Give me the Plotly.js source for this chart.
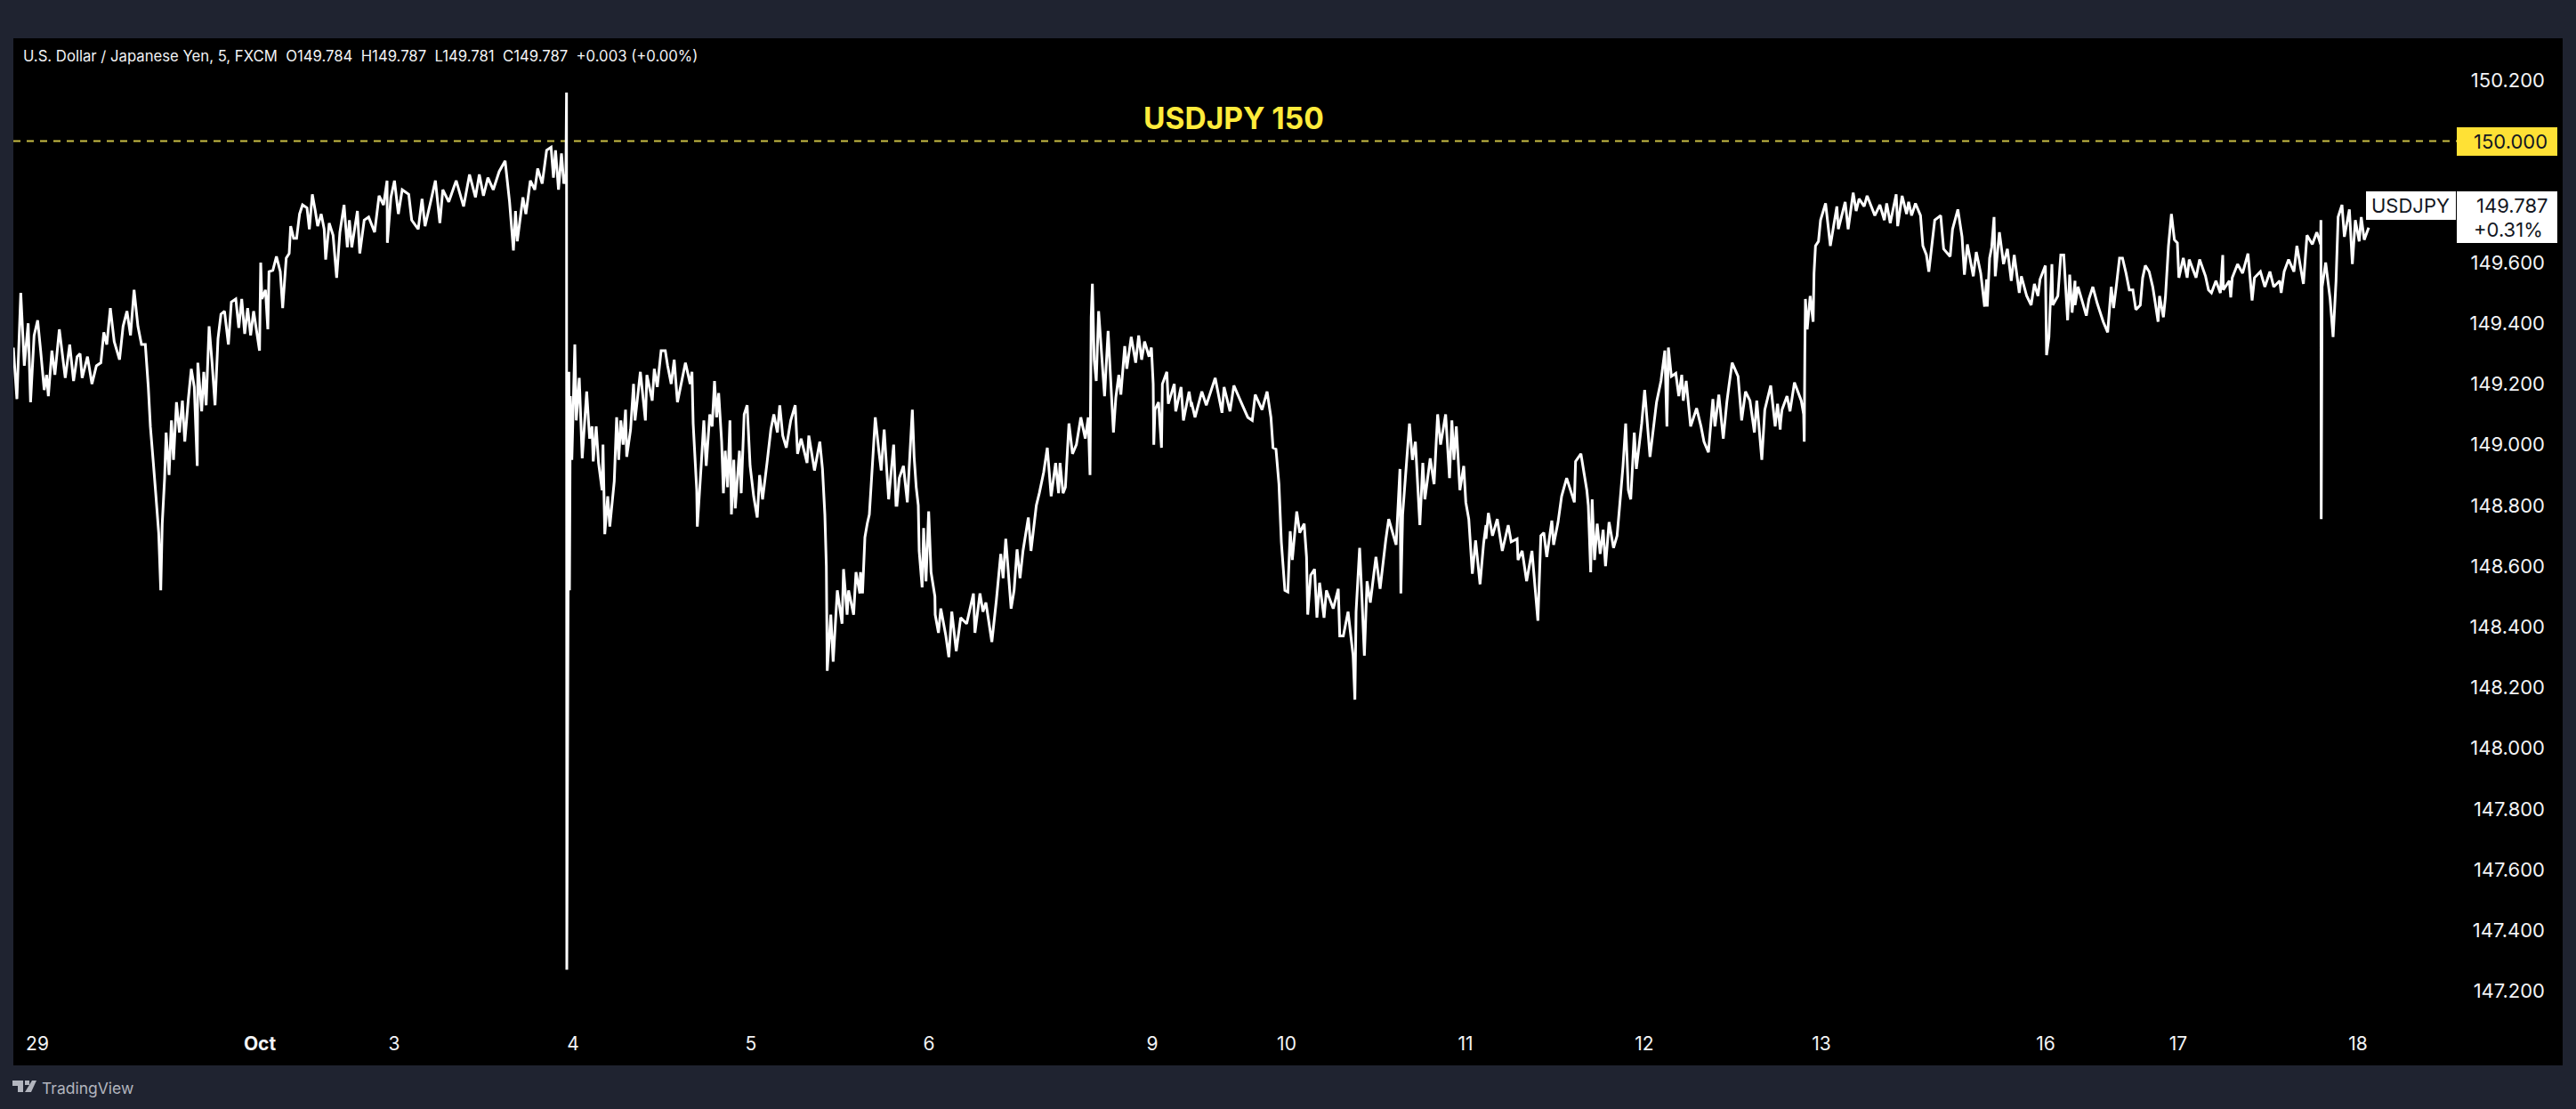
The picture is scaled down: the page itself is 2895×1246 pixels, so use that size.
<!DOCTYPE html>
<html><head><meta charset="utf-8">
<script src="https://cdn.plot.ly/plotly-3.0.1.min.js"></script>
<style>html,body{margin:0;padding:0;background:#1f2330}</style></head>
<body><div id="chart" style="width:2895px;height:1246px"></div>
<script>
// USD/JPY price path: [time step within the stretch, price]
const stretchStart=[0,993,1986,2979,3972,4965,5958,6951];
const stretch1=[[0,149.32],[12,149.15],[25,149.50],[37,149.26],[50,149.40],[58,149.14],[70,149.36],[82,149.41],[92,149.31],[104,149.18],[112,149.23],[118,149.16],[130,149.31],[140,149.23],[155,149.38],[175,149.22],[190,149.33],[203,149.21],[215,149.29],[225,149.30],[232,149.22],[250,149.29],[265,149.20],[280,149.26],[295,149.27],[305,149.37],[315,149.33],[327,149.45],[340,149.34],[358,149.28],[370,149.39],[383,149.44],[395,149.36],[407,149.51],[420,149.39],[432,149.33],[445,149.33],[455,149.19],[462,149.06],[472,148.94],[480,148.84],[490,148.71],[497,148.52],[502,148.74],[510,148.89],[515,149.04],[525,148.90],[533,149.08],[540,148.95],[550,149.14],[560,149.04],[570,149.145],[578,149.01],[590,149.15],[600,149.25],[610,149.19],[620,148.93],[622,149.27],[635,149.11],[642,149.24],[650,149.13],[660,149.39],[670,149.27],[680,149.13],[690,149.35],[700,149.43],[712,149.44],[725,149.33],[735,149.47],[750,149.48],[760,149.385],[770,149.48],[780,149.365],[790,149.45],[800,149.36],[810,149.44],[830,149.31],[834,149.60],[838,149.48],[850,149.51],[858,149.38],[862,149.57],[875,149.575],[887,149.62],[900,149.57],[908,149.45],[920,149.615],[930,149.63],[935,149.72],[945,149.68],[955,149.68],[965,149.76],[975,149.79],[990,149.78]];
const stretch2=[[5,149.71],[15,149.825],[25,149.77],[33,149.72],[45,149.76],[55,149.71],[60,149.61],[72,149.73],[85,149.69],[97,149.55],[108,149.70],[122,149.79],[133,149.65],[140,149.74],[148,149.65],[167,149.77],[175,149.63],[190,149.74],[205,149.75],[225,149.70],[240,149.82],[255,149.79],[267,149.87],[268,149.665],[280,149.815],[292,149.87],[305,149.76],[318,149.84],[340,149.825],[350,149.74],[372,149.71],[385,149.81],[395,149.72],[415,149.805],[430,149.87],[445,149.73],[455,149.84],[475,149.80],[500,149.87],[525,149.785],[545,149.89],[565,149.815],[578,149.89],[592,149.82],[607,149.88],[625,149.84],[645,149.90],[665,149.935],[680,149.80],[693,149.64],[700,149.77],[706,149.67],[725,149.815],[735,149.76],[750,149.87],[765,149.84],[775,149.91],[790,149.86],[805,149.97],[820,149.98],[828,149.88],[835,149.97],[845,149.84],[855,149.96],[863,149.86],[870,149.89],[872,150.16],[873,147.27],[880,149.24],[882,148.52],[885,149.16],[890,148.95],[900,149.33],[905,149.08],[915,149.22],[925,148.955],[940,149.175],[950,149.02],[958,149.06],[962,148.945],[972,149.06],[980,148.94],[992,148.85]];
const stretch3=[[2,149.00],[8,148.705],[18,148.83],[25,148.73],[40,148.88],[48,149.09],[55,148.95],[62,149.08],[70,149.00],[78,149.115],[82,148.96],[95,149.05],[105,149.20],[110,149.08],[128,149.24],[145,149.08],[150,149.23],[168,149.145],[175,149.25],[185,149.19],[198,149.31],[212,149.31],[220,149.26],[232,149.20],[242,149.28],[253,149.14],[280,149.27],[296,149.20],[302,149.24],[306,149.07],[318,148.85],[320,148.73],[333,148.93],[342,149.08],[350,148.93],[362,149.10],[370,149.06],[378,149.21],[385,149.09],[392,149.17],[402,149.01],[408,148.84],[414,148.98],[422,148.86],[430,149.08],[435,148.77],[443,148.95],[448,148.79],[462,148.98],[468,148.84],[478,149.10],[488,149.13],[498,148.93],[510,148.83],[522,148.76],[530,148.90],[540,148.82],[555,148.94],[568,149.05],[578,149.10],[590,149.04],[598,149.13],[608,149.03],[620,148.99],[635,149.08],[650,149.13],[658,148.97],[670,149.02],[690,148.94],[696,149.03],[715,148.915],[733,149.01],[742,148.92],[750,148.77],[755,148.60],[758,148.255],[770,148.44],[778,148.285],[792,148.52],[808,148.41],[813,148.59],[825,148.44],[830,148.52],[847,148.44],[855,148.58],[868,148.51],[870,148.58],[877,148.51],[885,148.695],[893,148.74],[900,148.77],[912,148.96],[920,149.09],[932,148.98],[940,148.915],[950,149.05],[965,148.82],[982,149.00],[990,148.80]];
const stretch4=[[0,148.80],[8,148.89],[22,148.93],[35,148.81],[52,149.115],[58,148.96],[65,148.86],[72,148.80],[75,148.65],[85,148.53],[90,148.725],[98,148.55],[107,148.78],[115,148.58],[128,148.50],[129,148.44],[140,148.38],[148,148.46],[165,148.37],[175,148.30],[185,148.45],[200,148.32],[215,148.43],[235,148.41],[258,148.51],[263,148.38],[280,148.51],[290,148.45],[300,148.48],[320,148.35],[335,148.485],[350,148.64],[358,148.56],[367,148.69],[385,148.46],[395,148.52],[405,148.655],[415,148.56],[425,148.65],[443,148.76],[452,148.65],[470,148.80],[480,148.84],[495,148.91],[507,148.99],[520,148.83],[535,148.94],[545,148.84],[550,148.94],[560,148.84],[568,148.86],[580,149.07],[592,148.97],[605,149.00],[620,149.09],[635,149.02],[645,149.09],[651,148.90],[655,149.42],[659,149.53],[665,149.28],[672,149.21],[680,149.44],[700,149.16],[712,149.375],[730,149.04],[738,149.155],[748,149.23],[755,149.165],[768,149.325],[775,149.25],[790,149.355],[805,149.27],[815,149.36],[825,149.28],[835,149.34],[850,149.29],[858,149.32],[864,149.20],[866,149.00],[870,149.115],[882,149.14],[892,148.99],[895,149.20],[910,149.24],[915,149.135],[935,149.20],[940,149.11],[958,149.19],[966,149.08],[985,149.175],[993,149.125]];
const stretch5=[[0,149.14],[12,149.09],[35,149.175],[50,149.13],[80,149.22],[103,149.105],[110,149.19],[130,149.11],[143,149.195],[165,149.145],[190,149.09],[205,149.08],[215,149.165],[238,149.115],[255,149.175],[268,149.09],[275,148.99],[285,148.985],[295,148.87],[303,148.68],[315,148.52],[325,148.515],[333,148.715],[340,148.62],[355,148.78],[365,148.71],[380,148.74],[388,148.63],[392,148.44],[402,148.57],[415,148.59],[423,148.43],[432,148.545],[447,148.43],[455,148.52],[478,148.46],[495,148.525],[500,148.37],[512,148.37],[528,148.45],[545,148.305],[551,148.16],[555,148.45],[567,148.66],[575,148.49],[583,148.305],[592,148.55],[603,148.48],[622,148.63],[636,148.525],[655,148.685],[665,148.755],[690,148.67],[703,148.92],[706,148.51],[712,148.77],[735,149.07],[745,148.95],[755,149.01],[770,148.735],[780,148.94],[787,148.82],[805,148.955],[818,148.87],[830,149.10],[840,149.00],[857,149.10],[870,148.89],[878,149.08],[885,148.95],[893,149.06],[905,148.85],[918,148.93],[925,148.81],[935,148.755],[947,148.575],[958,148.685],[973,148.54],[985,148.675],[993,148.735]];
const stretch6=[[0,148.69],[8,148.775],[22,148.70],[38,148.755],[55,148.65],[75,148.735],[85,148.68],[105,148.69],[108,148.62],[122,148.65],[137,148.55],[155,148.65],[175,148.42],[185,148.70],[195,148.71],[205,148.63],[222,148.75],[228,148.67],[243,148.745],[255,148.83],[272,148.89],[298,148.81],[302,148.945],[320,148.97],[340,148.85],[345,148.80],[353,148.58],[358,148.82],[366,148.62],[375,148.74],[385,148.64],[395,148.72],[403,148.60],[415,148.745],[430,148.66],[442,148.70],[450,148.79],[462,148.93],[471,149.07],[480,148.85],[488,148.82],[500,149.04],[507,148.92],[525,149.07],[535,149.18],[553,148.96],[575,149.14],[590,149.21],[603,149.31],[610,149.06],[615,149.32],[625,149.225],[640,149.235],[650,149.16],[660,149.23],[665,149.145],[675,149.21],[690,149.06],[710,149.12],[725,149.06],[735,149.01],[750,148.975],[765,149.15],[772,149.06],[785,149.165],[800,149.02],[812,149.14],[820,149.20],[830,149.27],[850,149.225],[862,149.08],[875,149.175],[890,149.145],[905,149.04],[913,149.145],[930,148.95],[940,149.115],[960,149.195],[975,149.06],[983,149.135],[992,149.05]];
const stretch7=[[0,149.07],[5,149.115],[22,149.16],[32,149.11],[47,149.205],[70,149.145],[78,149.10],[80,149.01],[82,149.30],[84,149.48],[90,149.38],[100,149.49],[110,149.405],[113,149.565],[118,149.655],[128,149.67],[135,149.74],[152,149.795],[168,149.655],[190,149.785],[195,149.71],[218,149.80],[228,149.71],[245,149.83],[255,149.77],[265,149.81],[282,149.785],[292,149.82],[318,149.755],[335,149.79],[350,149.74],[358,149.795],[370,149.73],[390,149.825],[395,149.72],[410,149.82],[425,149.76],[432,149.80],[442,149.755],[455,149.795],[472,149.755],[480,149.655],[492,149.625],[500,149.57],[520,149.74],[540,149.755],[550,149.645],[572,149.62],[580,149.71],[598,149.775],[612,149.685],[620,149.56],[630,149.66],[650,149.555],[660,149.635],[675,149.565],[688,149.455],[695,149.545],[697,149.455],[705,149.615],[712,149.65],[720,149.75],[724,149.555],[738,149.70],[752,149.595],[765,149.645],[778,149.54],[788,149.625],[805,149.50],[812,149.555],[830,149.49],[845,149.46],[856,149.53],[868,149.49],[875,149.545],[893,149.59],[897,149.295],[905,149.355],[915,149.595],[918,149.46],[935,149.49],[945,149.625],[955,149.625],[968,149.41],[975,149.56],[983,149.435],[993,149.54]];
const stretch8=[[0,149.46],[10,149.52],[25,149.47],[38,149.425],[47,149.48],[60,149.52],[75,149.465],[95,149.405],[110,149.37],[122,149.52],[130,149.45],[140,149.53],[150,149.615],[160,149.615],[172,149.565],[183,149.51],[195,149.51],[205,149.445],[220,149.46],[228,149.55],[237,149.59],[250,149.57],[262,149.52],[270,149.47],[280,149.405],[285,149.49],[298,149.42],[305,149.49],[315,149.655],[325,149.76],[335,149.675],[345,149.665],[350,149.55],[365,149.615],[378,149.55],[385,149.61],[408,149.55],[420,149.61],[440,149.555],[450,149.51],[460,149.50],[475,149.54],[490,149.50],[498,149.625],[500,149.51],[520,149.54],[525,149.485],[530,149.55],[548,149.595],[565,149.565],[583,149.63],[597,149.475],[605,149.55],[625,149.57],[640,149.52],[657,149.57],[670,149.52],[690,149.54],[695,149.50],[705,149.57],[720,149.61],[738,149.57],[748,149.655],[770,149.53],[782,149.69],[800,149.66],[815,149.70],[828,149.66],[829,149.74],[830,148.755],[833,149.52],[845,149.60],[860,149.48],[870,149.355],[880,149.54],[887,149.75],[900,149.79],[908,149.685],[925,149.775],[935,149.595],[945,149.74],[958,149.67],[965,149.75],[975,149.675],[990,149.715]];
const stretches=[stretch1,stretch2,stretch3,stretch4,stretch5,stretch6,stretch7,stretch8];

const priceTicks=[147.2,147.4,147.6,147.8,148.0,148.2,148.4,148.6,148.8,149.0,149.2,149.4,149.6,150.2];
const dayTicks=[81,831,1284,1887,2487,3087,3840,4293,4896,5499,6096,6852,7299,7905];
const dayLabels=['29','<b>Oct</b>','3','4','5','6','9','10','11','12','13','16','17','18'];
const level=150;
const headerText='U.S. Dollar / Japanese Yen, 5, FXCM\u00A0\u00A0O149.784\u00A0\u00A0H149.787\u00A0\u00A0L149.781\u00A0\u00A0C149.787\u00A0\u00A0+0.003 (+0.00%)';

const W=2895,H=1246,L=15,R=2880,T=43,B=1197;
const px=x=>(x-L)/(R-L), py=y=>1-(y-T)/(B-T);
const times=[],prices=[];
stretches.forEach((s,i)=>s.forEach(p=>{times.push(stretchStart[i]+p[0]);prices.push(p[1]);}));

const FONT='Inter, "Liberation Sans", sans-serif';
const note=(text,x,y,size,color,anchor,extra)=>Object.assign({text,x:px(x),y:py(y),xref:'paper',yref:'paper',showarrow:false,xanchor:anchor||'left',yanchor:'middle',font:{family:FONT,size,color},borderpad:0,borderwidth:0},extra||{});
const box=(x0,y0,x1,y1,fill)=>({type:'rect',xref:'paper',yref:'paper',x0:px(x0),x1:px(x1),y0:py(y0),y1:py(y1),fillcolor:fill,line:{width:0},layer:'above'});
const logo=d=>({type:'path',xref:'paper',yref:'paper',path:d.map((c,i)=>(i?'L':'M')+px(c[0])+','+py(c[1])).join(' ')+' Z',fillcolor:'#b2b5be',line:{width:0},layer:'above'});

const data=[
 {type:'scatter',mode:'lines',x:[0,8238],y:[level,level],line:{color:'#c9be45',width:2,dash:'8px,7px'},hoverinfo:'skip',showlegend:false},
 {type:'scatter',mode:'lines',x:times,y:prices,line:{color:'#ffffff',width:3,simplify:false},hoverinfo:'skip',showlegend:false}
];
const layout={
 width:W,height:H,paper_bgcolor:'#1f2330',plot_bgcolor:'#000000',
 margin:{l:L,r:W-R,t:T,b:H-B,pad:0},showlegend:false,hovermode:false,
 xaxis:{range:[0,(R-L)*3],tickvals:dayTicks,ticktext:dayLabels,tickmode:'array',showgrid:false,zeroline:false,showline:false,ticks:'',ticklabelposition:'inside',ticklabelstandoff:10,tickangle:0,tickfont:{family:FONT,size:21,color:'#f2f3f5'}},
 yaxis:{range:[146.955,150.339],side:'right',tickvals:priceTicks,ticktext:priceTicks.map(v=>v.toFixed(3)),tickmode:'array',showgrid:false,zeroline:false,showline:false,ticks:'',ticklabelposition:'inside',ticklabelstandoff:17,tickfont:{family:FONT,size:22,color:'#f2f3f5'}},
 shapes:[
  box(2761,143,2874,175,'#ffe135'),
  box(2761,215,2874,273,'#ffffff'),
  box(2659,215,2760,247,'#ffffff'),
  logo([[14,1214],[26,1214],[26,1227],[20,1227],[20,1220],[14,1220]]),
  logo([[28,1214],[33,1214],[33,1219],[28,1219]]),
  logo([[36,1214],[41,1214],[35,1227],[28,1227]])
 ],
 annotations:[
  note(headerText,26,63,16.7,'#f2f3f5'),
  note('<b>USDJPY 150</b>',1386,133,33.5,'#ffeb3b','center'),
  note('150.000',2863,159,22,'#131722','right'),
  note('149.787',2863,231,22,'#131722','right'),
  note('+0.31%',2858,258,22,'#131722','right'),
  note('USDJPY',2709,231,22,'#131722','center'),
  note('TradingView',47,1222,17.5,'#b2b5be')
 ]
};
Plotly.newPlot('chart',data,layout,{displayModeBar:false,staticPlot:true});
</script></body></html>
